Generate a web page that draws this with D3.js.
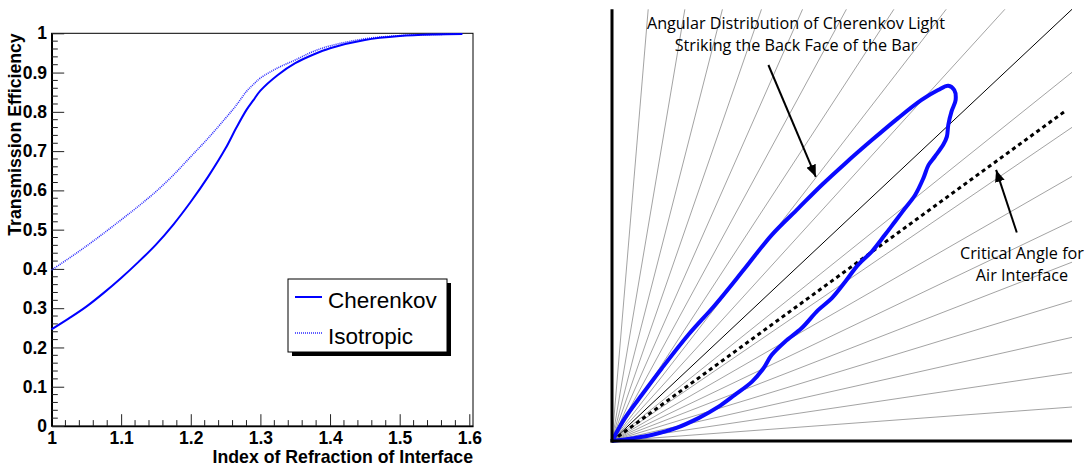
<!DOCTYPE html>
<html>
<head>
<meta charset="utf-8">
<script src="https://cdn.jsdelivr.net/npm/d3@7/dist/d3.min.js"></script>
<style>
  body { margin: 0; background: #fff; }
</style>
</head>
<body>
<div id="chart"></div>
<script>
// ---- left panel data: transmission efficiency vs index of refraction
const indexN = [1.0, 1.025, 1.05, 1.075, 1.1, 1.125, 1.15, 1.175, 1.2, 1.225, 1.25, 1.265, 1.28, 1.29, 1.3, 1.325, 1.35, 1.375, 1.4, 1.45, 1.5, 1.55, 1.59];
const cherenkov = [0.246, 0.274, 0.304, 0.339, 0.377, 0.418, 0.462, 0.513, 0.571, 0.635, 0.707, 0.758, 0.805, 0.830, 0.854, 0.894, 0.924, 0.945, 0.962, 0.983, 0.993, 0.997, 0.998];
const isotropic = [0.397, 0.427, 0.458, 0.491, 0.525, 0.560, 0.597, 0.639, 0.686, 0.733, 0.784, 0.816, 0.852, 0.870, 0.886, 0.912, 0.932, 0.953, 0.968, 0.986, 0.994, 0.997, 0.998];
const seriesNames = ["Cherenkov", "Isotropic"];
const xTicks = [1, 1.1, 1.2, 1.3, 1.4, 1.5, 1.6];
const xTickLabels = ["1", "1.1", "1.2", "1.3", "1.4", "1.5", "1.6"];
const yTicks = [0, 0.1, 0.2, 0.3, 0.4, 0.5, 0.6, 0.7, 0.8, 0.9, 1];
const yTickLabels = ["0", "0.1", "0.2", "0.3", "0.4", "0.5", "0.6", "0.7", "0.8", "0.9", "1"];

// ---- right panel data: angular distribution (unit square, origin bottom-left)
const rayAngles = [4.5, 9, 13.5, 18, 22.5, 27, 31.5, 36, 40.5, 49.5, 54, 58.5, 63, 67.5, 72, 76.5, 81, 85.5];
const diagonalAngle = 45;
const criticalAngle = 37.8;
const criticalLength = 1.246;
const lobeU = [0, 0.028, 0.065, 0.108, 0.166, 0.224, 0.289, 0.347, 0.405, 0.456, 0.507, 0.565, 0.622, 0.673, 0.709, 0.731, 0.744, 0.747, 0.738, 0.731, 0.728, 0.720, 0.702, 0.688, 0.677, 0.659, 0.637, 0.615, 0.593, 0.565, 0.535, 0.507, 0.478, 0.448, 0.412, 0.376, 0.347, 0.329, 0.304, 0.267, 0.231, 0.188, 0.137, 0.086, 0.043, 0];
const lobeV = [0, 0.053, 0.107, 0.168, 0.246, 0.315, 0.400, 0.477, 0.539, 0.593, 0.643, 0.697, 0.748, 0.790, 0.813, 0.823, 0.813, 0.790, 0.763, 0.732, 0.705, 0.686, 0.659, 0.639, 0.609, 0.570, 0.539, 0.508, 0.477, 0.439, 0.408, 0.369, 0.331, 0.303, 0.261, 0.230, 0.199, 0.168, 0.137, 0.107, 0.079, 0.053, 0.029, 0.014, 0.006, 0];
const arrowStartU = [0.340, 0.880];
const arrowStartV = [0.871, 0.483];
const arrowEndU = [0.443, 0.835];
const arrowEndV = [0.612, 0.628];
const labelLines = [
  ["Angular Distribution of Cherenkov Light", "Striking the Back Face of the Bar"],
  ["Critical Angle for", "Air Interface"]
];

const W = 1089, H = 469;
const FONT = "'Liberation Sans', Arial, sans-serif";
const svg = d3.select("#chart").append("svg")
  .attr("width", W).attr("height", H)
  .style("font-family", FONT);

// ================= left panel =================
const frame = { left: 51.5, right: 473, top: 33.3, bottom: 426 };
const x = d3.scaleLinear().domain([1, 1.6053]).range([frame.left, frame.right]);
const y = d3.scaleLinear().domain([0, 1]).range([frame.bottom, frame.top]);

const left = svg.append("g");

// frame
left.append("rect")
  .attr("x", frame.left).attr("y", frame.top)
  .attr("width", frame.right - frame.left).attr("height", frame.bottom - frame.top)
  .attr("fill", "none").attr("stroke", "#000").attr("stroke-width", 1);

// x axis (ticks point up into the frame)
const xAxis = d3.axisBottom(x).tickValues(xTicks)
  .tickFormat((d, i) => xTickLabels[i]).tickSizeInner(-11.8).tickSizeOuter(0);
const gx = left.append("g").attr("transform", `translate(0,${frame.bottom})`).call(xAxis)
  .attr("font-family", FONT);
gx.select(".domain").attr("stroke", "#000").attr("stroke-width", 1.5);
gx.selectAll(".tick line").attr("stroke", "#222");
gx.selectAll("text").attr("y", 17.5).attr("dy", 0)
  .style("font-size", "17.5px").style("font-weight", "bold").attr("fill", "#000");
// minor x ticks
left.append("g").selectAll("line")
  .data(d3.range(0, 31).map(i => 1 + i * 0.02).filter(v => Math.abs(v * 10 - Math.round(v * 10)) > 1e-6))
  .join("line")
  .attr("x1", d => x(d)).attr("x2", d => x(d))
  .attr("y1", frame.bottom).attr("y2", frame.bottom - 5.9)
  .attr("stroke", "#222");

// y axis (ticks point right into the frame)
const yAxis = d3.axisLeft(y).tickValues(yTicks)
  .tickFormat((d, i) => yTickLabels[i]).tickSizeInner(-12.7).tickSizeOuter(0);
const gy = left.append("g").attr("transform", `translate(${frame.left},0)`).call(yAxis)
  .attr("font-family", FONT);
gy.select(".domain").attr("stroke", "#000").attr("stroke-width", 2);
gy.selectAll(".tick line").attr("stroke", "#222");
gy.selectAll("text").attr("x", -4.5)
  .style("font-size", "17.5px").style("font-weight", "bold").attr("fill", "#000");
left.append("g").selectAll("line")
  .data(d3.range(0, 51).map(i => i * 0.02).filter(v => Math.abs(v * 10 - Math.round(v * 10)) > 1e-6))
  .join("line")
  .attr("x1", frame.left).attr("x2", frame.left + 6.3)
  .attr("y1", d => y(d)).attr("y2", d => y(d))
  .attr("stroke", "#222");

// axis titles
left.append("text")
  .attr("transform", `translate(21,${frame.top}) rotate(-90)`)
  .attr("text-anchor", "end")
  .style("font-size", "17.7px").style("font-weight", "bold")
  .text("Transmission Efficiency");
left.append("text")
  .attr("x", frame.right).attr("y", 463)
  .attr("text-anchor", "end")
  .style("font-size", "17.7px").style("font-weight", "bold")
  .text("Index of Refraction of Interface");

// curves
const line = d3.line().curve(d3.curveCatmullRom.alpha(0.5))
  .x(d => x(d[0])).y(d => y(d[1]));
left.append("path")
  .datum(indexN.map((n, i) => [n, isotropic[i]]))
  .attr("d", line).attr("fill", "none")
  .attr("stroke", "#2a2aff").attr("stroke-width", 1.6)
  .attr("stroke-dasharray", "1,1");
left.append("path")
  .datum(indexN.map((n, i) => [n, cherenkov[i]]))
  .attr("d", line).attr("fill", "none")
  .attr("stroke", "#0000ff").attr("stroke-width", 2);

// legend
const lg = { x: 288, y: 279, w: 159, h: 73 };
left.append("rect").attr("x", lg.x + 4).attr("y", lg.y + 4)
  .attr("width", lg.w).attr("height", lg.h).attr("fill", "#000");
left.append("rect").attr("x", lg.x).attr("y", lg.y)
  .attr("width", lg.w).attr("height", lg.h)
  .attr("fill", "#fff").attr("stroke", "#000").attr("stroke-width", 1);
const legendItems = left.append("g").selectAll("g")
  .data(seriesNames).join("g")
  .attr("transform", (d, i) => `translate(${lg.x},${lg.y + 18 + i * 36})`);
legendItems.append("line")
  .attr("x1", 7).attr("x2", 34).attr("y1", 0).attr("y2", 0)
  .attr("stroke", (d, i) => i === 0 ? "#0000ff" : "#2a2aff")
  .attr("stroke-width", (d, i) => i === 0 ? 2 : 1.6)
  .attr("stroke-dasharray", (d, i) => i === 0 ? null : "1,1");
legendItems.append("text")
  .attr("x", 40).attr("y", 11)
  .style("font-size", "22.5px")
  .text(d => d);

// ================= right panel =================
const u = d3.scaleLinear().domain([0, 1]).range([612, 1072]);
const v = d3.scaleLinear().domain([0, 1]).range([441, 9.3]);
const right = svg.append("g");
const rad = a => a * Math.PI / 180;
// endpoint of a ray on the unit square
const rayEnd = a => a <= 45 ? [1, Math.tan(rad(a))] : [1 / Math.tan(rad(a)), 1];

right.append("g").selectAll("line")
  .data(rayAngles).join("line")
  .attr("x1", u(0)).attr("y1", v(0))
  .attr("x2", d => u(rayEnd(d)[0])).attr("y2", d => v(rayEnd(d)[1]))
  .attr("stroke", "#8c8c8c").attr("stroke-width", 0.8);
right.append("line")
  .attr("x1", u(0)).attr("y1", v(0))
  .attr("x2", u(rayEnd(diagonalAngle)[0])).attr("y2", v(rayEnd(diagonalAngle)[1]))
  .attr("stroke", "#000").attr("stroke-width", 1);

// critical angle line
right.append("line")
  .attr("x1", u(0)).attr("y1", v(0))
  .attr("x2", u(criticalLength * Math.cos(rad(criticalAngle))))
  .attr("y2", v(criticalLength * Math.sin(rad(criticalAngle))))
  .attr("stroke", "#000").attr("stroke-width", 3)
  .attr("stroke-dasharray", "4,3.5");

// lobe
right.append("path")
  .datum(lobeU.map((d, i) => [d, lobeV[i]]))
  .attr("d", d3.line().curve(d3.curveCatmullRom.alpha(0.5)).x(d => u(d[0])).y(d => v(d[1])))
  .attr("fill", "none").attr("stroke", "#0a0aff").attr("stroke-width", 4)
  .attr("stroke-linejoin", "round");

// axes
right.append("line")
  .attr("x1", u(0)).attr("x2", u(0)).attr("y1", v(0) + 1.5).attr("y2", v(1))
  .attr("stroke", "#000").attr("stroke-width", 3);
right.append("line")
  .attr("x1", u(0) - 1.5).attr("x2", u(1)).attr("y1", v(0)).attr("y2", v(0))
  .attr("stroke", "#000").attr("stroke-width", 3);

// arrows
svg.append("defs").append("marker")
  .attr("id", "head").attr("markerUnits", "userSpaceOnUse")
  .attr("markerWidth", 14).attr("markerHeight", 10)
  .attr("refX", 12).attr("refY", 5).attr("orient", "auto")
  .append("path").attr("d", "M0,0 L12,5 L0,10 Z").attr("fill", "#000");
right.append("g").selectAll("line")
  .data(arrowStartU).join("line")
  .attr("x1", (d, i) => u(d)).attr("y1", (d, i) => v(arrowStartV[i]))
  .attr("x2", (d, i) => u(arrowEndU[i])).attr("y2", (d, i) => v(arrowEndV[i]))
  .attr("stroke", "#000").attr("stroke-width", 2)
  .attr("marker-end", "url(#head)");

// annotation text
const labelPos = [[796, 29, 22], [1022, 259, 22]];
labelLines.forEach((lines, k) => {
  right.append("text")
    .attr("text-anchor", "middle")
    .style("font-family", "'Open Sans', sans-serif").style("font-size", "16.2px")
    .selectAll("tspan").data(lines).join("tspan")
    .attr("x", labelPos[k][0])
    .attr("y", (d, i) => labelPos[k][1] + i * labelPos[k][2])
    .text(d => d);
});
</script>
</body>
</html>
